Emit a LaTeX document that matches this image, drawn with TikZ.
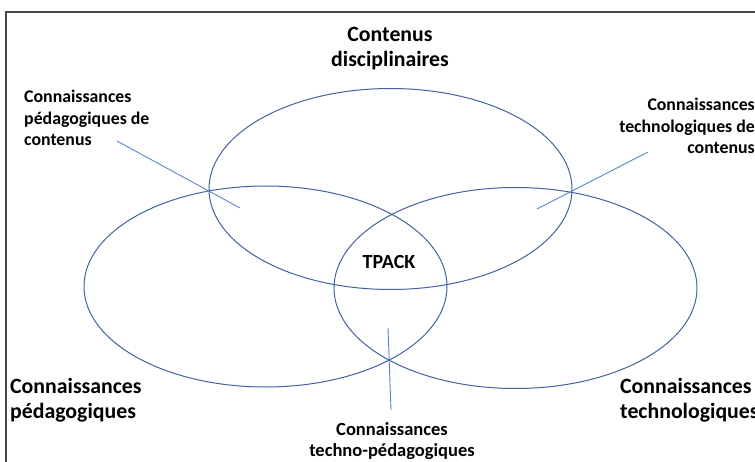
\documentclass[tikz,border=0pt]{standalone}
\usepackage{fontspec}
\setmainfont{Carlito}
\usetikzlibrary{shapes.geometric}
\definecolor{ellblue}{RGB}{66,98,160}
\definecolor{lineblue}{RGB}{92,130,205}
\definecolor{frame}{RGB}{70,70,70}
\tikzset{
  x=1pt,y=-1pt,
  circ/.style={ellipse, draw=ellblue, line width=1pt, minimum width=363pt, minimum height=201pt, inner sep=0pt},
  leader/.style={draw=lineblue, line width=0.9pt},
  big/.style={font=\bfseries\fontsize{21.8}{25}\selectfont, inner sep=0pt},
  small/.style={font=\bfseries\fontsize{17.8}{21.5}\selectfont, inner sep=0pt},
}
\begin{document}
\begin{tikzpicture}
\useasboundingbox (0,0) rectangle (755,462);
\fill[white] (0,0) rectangle (755,462);
% frame
\coordinate (f1) at (6,462);
\coordinate (f2) at (6,12);
\coordinate (f3) at (756,12);
\draw[frame, line width=1.2pt] (f1) -- (f2) -- (f3);
% ellipses
\node[circ] (C) at (390.5,189) {};
\node[circ] (P) at (265.5,286.5) {};
\node[circ] (T) at (515.5,288) {};
% leader lines
\coordinate (pck1) at (117,141);
\coordinate (pck2) at (240,208);
\coordinate (tck1) at (648,152);
\coordinate (tck2) at (537,209);
\coordinate (tpk1) at (388,328);
\coordinate (tpk2) at (391,410);
\draw[leader] (pck1) -- (pck2);
\draw[leader] (tck1) -- (tck2);
\draw[leader] (tpk1) -- (tpk2);
% labels
\node[big, align=center] (lc) at (390,49) {Contenus\\disciplinaires};
\node[big, align=left, anchor=west] (lp) at (10,400) {Connaissances\\pédagogiques};
\node[big, align=left, anchor=west] (lt) at (620,400) {Connaissances\\technologiques};
\node[small, align=left, anchor=west] (lpck) at (24,118) {Connaissances\\pédagogiques de\\contenus};
\node[small, align=right, anchor=east] (ltck) at (755,126) {Connaissances\\technologiques de\\contenus};
\node[small, align=center, font=\bfseries\fontsize{18.5}{21}\selectfont] (ltpk) at (392,441) {Connaissances\\techno-pédagogiques};
\node[small, font=\bfseries\fontsize{20}{24}\selectfont] (tpack) at (389,262) {TPACK};
\end{tikzpicture}
\end{document}
